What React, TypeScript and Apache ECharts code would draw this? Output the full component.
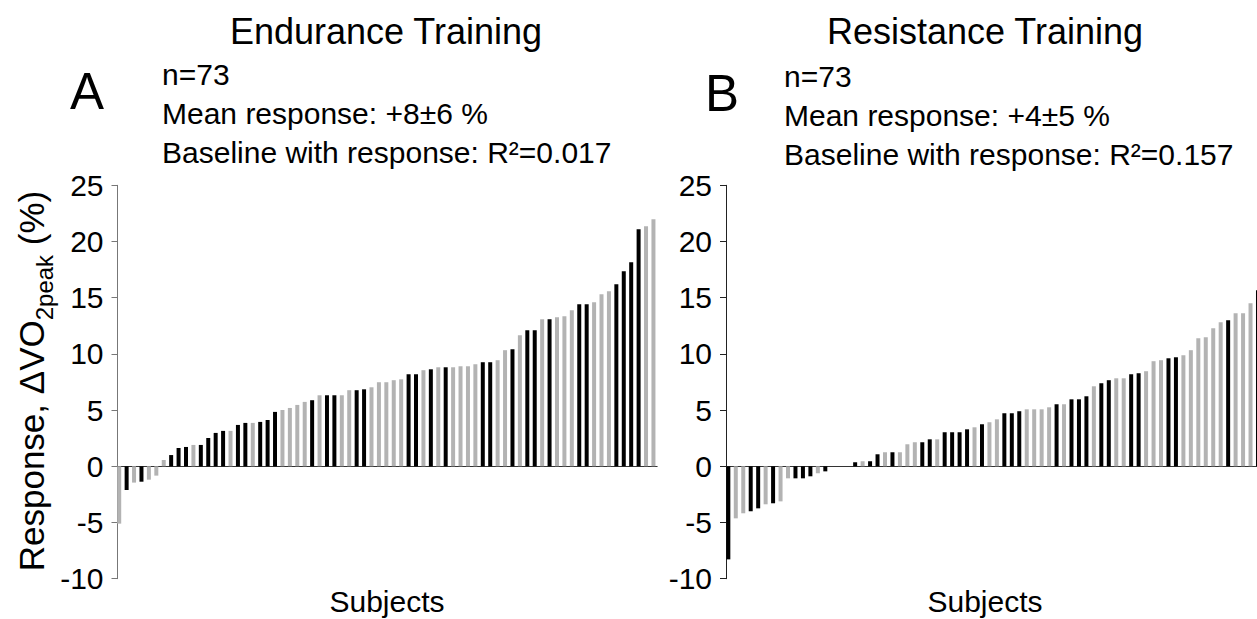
import React, { useEffect, useRef } from "react";
import * as echarts from "echarts";

const FONT = "'Liberation Sans', Arial, Helvetica, sans-serif";

const yTicks = { min: -10, max: 25, interval: 5 };

const enduranceValues = [
  -5.1, -2.1, -1.45, -1.37, -1.19, -0.83, 0.56, 1.0, 1.63, 1.72,
  1.9, 1.9, 2.52, 2.97, 3.15, 3.15, 3.68, 3.86, 3.86, 3.95,
  4.12, 4.84, 5.01, 5.19, 5.46, 5.73, 5.88, 6.32, 6.32, 6.32,
  6.32, 6.77, 6.77, 6.85, 7.03, 7.48, 7.48, 7.66, 7.74, 8.19,
  8.19, 8.55, 8.63, 8.81, 8.81, 8.81, 8.9, 8.9, 9.08, 9.26,
  9.26, 9.44, 10.33, 10.42, 11.66, 12.1, 12.1, 13.09, 13.09, 13.26,
  13.35, 13.89, 14.42, 14.42, 14.6, 15.31, 15.58, 16.2, 17.36, 18.16,
  21.1, 21.36, 21.99,
];
const enduranceGroups = [
  "g", "k", "g", "k", "g", "g", "g", "k", "k", "k",
  "g", "k", "k", "k", "k", "g", "k", "k", "g", "k",
  "k", "k", "g", "g", "g", "g", "k", "g", "k", "k",
  "g", "g", "k", "k", "g", "g", "g", "g", "g", "k",
  "k", "g", "k", "g", "k", "g", "g", "g", "g", "k",
  "k", "g", "g", "k", "g", "k", "k", "g", "k", "g",
  "g", "g", "k", "k", "g", "g", "g", "k", "k", "k",
  "k", "g", "g",
];

const resistanceValues = [
  -8.28, -4.63, -4.18, -4.0, -3.74, -3.38, -3.29, -3.12, -1.07, -1.07,
  -1.07, -0.89, -0.62, -0.45, 0, 0, 0, 0.36, 0.45, 0.45,
  1.07, 1.25, 1.25, 1.25, 1.96, 2.14, 2.14, 2.4, 2.4, 3.03,
  3.03, 3.03, 3.29, 3.47, 3.74, 3.92, 4.18, 4.72, 4.72, 4.9,
  5.07, 5.07, 5.07, 5.25, 5.52, 5.52, 5.96, 5.96, 6.23, 7.12,
  7.39, 7.66, 7.83, 7.83, 8.19, 8.28, 8.46, 9.35, 9.44, 9.61,
  9.7, 9.88, 10.33, 11.4, 11.48, 12.28, 12.82, 13.0, 13.62, 13.62,
  14.5, 15.67, 16.0,
];
const resistanceGroups = [
  "k", "g", "g", "k", "k", "g", "k", "g", "g", "k",
  "k", "k", "g", "k", "g", "g", "g", "k", "g", "k",
  "k", "g", "k", "g", "g", "g", "k", "k", "g", "k",
  "k", "k", "k", "g", "k", "g", "g", "k", "k", "k",
  "g", "g", "g", "g", "k", "g", "k", "k", "k", "g",
  "k", "k", "g", "g", "k", "k", "g", "g", "g", "k",
  "k", "g", "g", "g", "g", "g", "g", "k", "g", "g",
  "g", "k", "g",
];

const panelTitles = ["Endurance Training", "Resistance Training"];
const panelLetters = ["A", "B"];
const enduranceNotes = ["n=73", "Mean response: +8±6 %", "Baseline with response: R²=0.017"];
const resistanceNotes = ["n=73", "Mean response: +4±5 %", "Baseline with response: R²=0.157"];
const xAxisTitle = "Subjects";

const GREY = "#b3b3b3";
const BLACK = "#000000";

function toData(values: number[], groups: string[]) {
  return values.map((v, i) => ({
    value: v,
    itemStyle: { color: groups[i] === "k" ? BLACK : GREY },
  }));
}

export default function App() {
  const ref = useRef<HTMLDivElement>(null);

  useEffect(() => {
    if (!ref.current) return;
    const chart = echarts.init(ref.current, undefined, { renderer: "svg" });

    const gridTop = 185.3;
    const gridH = 393.4;
    const grids = [
      { left: 115.5, top: gridTop, width: 7.42 * 73, height: gridH },
      { left: 724.6, top: gridTop, width: 7.46 * 73, height: gridH },
    ];
    const cats = enduranceValues.map((_, i) => String(i + 1));
    const cats2 = resistanceValues.map((_, i) => String(i + 1));

    const xAxis = [cats, cats2].map((c, i) => ({
      type: "category",
      gridIndex: i,
      data: c,
      axisLine: { onZero: true, lineStyle: { color: "#333", width: 1 } },
      axisTick: { show: false },
      axisLabel: { show: false },
      splitLine: { show: false },
    }));

    const axisColors = ["#777", "#222"];
    const yAxis = [0, 1].map((i) => ({
      type: "value",
      gridIndex: i,
      min: yTicks.min,
      max: yTicks.max,
      interval: yTicks.interval,
      offset: i === 0 ? -2 : -1.4,
      axisLine: { show: true, lineStyle: { color: axisColors[i], width: 1 } },
      axisTick: { show: true, inside: false, length: 6, lineStyle: { color: axisColors[i] } },
      splitLine: { show: false },
      axisLabel: { fontSize: 30, color: "#000", margin: 14, fontFamily: FONT },
    }));

    const txt = (x: number, y: number, text: string, size: number, align = "left") => ({
      type: "text",
      x,
      y,
      silent: true,
      style: {
        text,
        fontSize: size,
        fontFamily: FONT,
        fill: "#000",
        align,
        verticalAlign: "middle",
      },
    });

    const graphic: any[] = [
      txt(386, 31, panelTitles[0], 36, "center"),
      txt(985, 31, panelTitles[1], 36, "center"),
      txt(70, 91, panelLetters[0], 51),
      txt(705, 93, panelLetters[1], 51),
      ...enduranceNotes.map((t, i) => txt(162, 74 + i * 39, t, 30)),
      ...resistanceNotes.map((t, i) => txt(784, 76 + i * 39, t, 30)),
      txt(387, 601, xAxisTitle, 30, "center"),
      txt(985, 601, xAxisTitle, 30, "center"),
      {
        type: "text",
        x: 32,
        y: 381,
        rotation: Math.PI / 2,
        silent: true,
        style: {
          text: "{a|Response, ΔVO}{s|2peak}{a| (%)}",
          align: "center",
          verticalAlign: "middle",
          fill: "#000",
          rich: {
            a: { fontSize: 35, fontFamily: FONT, lineHeight: 36, verticalAlign: "top", fill: "#000" },
            s: {
              fontSize: 24,
              fontFamily: FONT,
              lineHeight: 24,
              verticalAlign: "top",
              padding: [18, 0, 0, 0],
              fill: "#000",
            },
          },
        },
      },
    ];

    chart.setOption({
      animation: false,
      backgroundColor: "#ffffff",
      grid: grids,
      xAxis,
      yAxis,
      series: [
        {
          type: "bar",
          xAxisIndex: 0,
          yAxisIndex: 0,
          barWidth: 4,
          data: toData(enduranceValues, enduranceGroups),
        },
        {
          type: "bar",
          xAxisIndex: 1,
          yAxisIndex: 1,
          barWidth: 4,
          data: toData(resistanceValues, resistanceGroups),
        },
      ],
      graphic,
    });

    return () => chart.dispose();
  }, []);

  return (
    <div
      style={{
        position: "fixed",
        left: 0,
        top: 0,
        width: 1257,
        height: 619,
        overflow: "hidden",
        background: "#fff",
      }}
    >
      <div ref={ref} style={{ width: 1290, height: 619 }} />
    </div>
  );
}
